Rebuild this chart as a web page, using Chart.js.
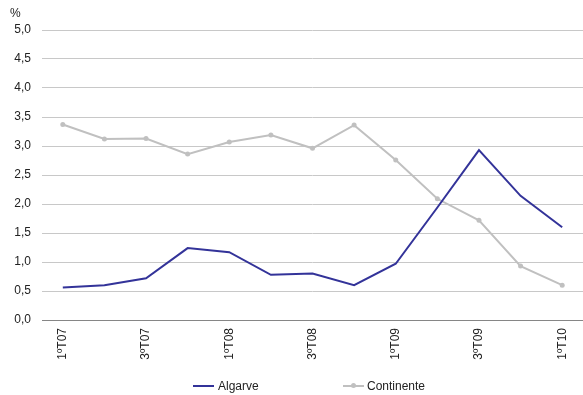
<!DOCTYPE html>
<html>
<head>
<meta charset="utf-8">
<script src="https://cdn.jsdelivr.net/npm/chart.js@4/dist/chart.umd.min.js"></script>
<style>
	html, body { margin: 0; background: #fff; overflow: hidden; }
	#wrap { position: relative; width: 587px; height: 395px; }
	#legend { position: absolute; left: 0; top: 378px; width: 583px; height: 16px; font: 12px "Liberation Sans", Arial, sans-serif; color: #222; }
	.item { position: absolute; top: 0; height: 16px; line-height: 16px; }
	.swatch { position: absolute; top: 7px; width: 21px; height: 2px; }
	.dot { position: absolute; top: -2px; left: 8px; width: 5px; height: 5px; border-radius: 50%; background: #c0c0c0; }
</style>
</head>
<body>
<div id="wrap">
	<canvas id="chart"></canvas>
	<div id="legend">
		<div class="item" style="left:193px"><span class="swatch" style="background:#333399;left:0"></span><span style="margin-left:25px">Algarve</span></div>
		<div class="item" style="left:343px"><span class="swatch" style="background:#c0c0c0;left:0"><span class="dot"></span></span><span style="margin-left:24px">Continente</span></div>
	</div>
</div>
<script>
var quarters = ["1ºT07", "2ºT07", "3ºT07", "4ºT07", "1ºT08", "2ºT08", "3ºT08", "4ºT08", "1ºT09", "2ºT09", "3ºT09", "4ºT09", "1ºT10"];
var algarve = [0.56, 0.60, 0.72, 1.24, 1.17, 0.78, 0.80, 0.60, 0.97, 1.94, 2.93, 2.14, 1.60];
var continente = [3.37, 3.12, 3.13, 2.86, 3.07, 3.19, 2.96, 3.36, 2.76, 2.09, 1.72, 0.93, 0.60];

var font = { family: '"Liberation Sans", Arial, sans-serif', size: 12 };

var percentLabel = {
	id: "percentLabel",
	afterDraw: function(chart) {
		var ctx = chart.ctx;
		ctx.save();
		ctx.font = "12px " + font.family;
		ctx.fillStyle = "#222";
		ctx.textBaseline = "middle";
		ctx.fillText("%", 10, 14);
		ctx.restore();
	}
};

new Chart(document.getElementById("chart"), {
	type: "line",
	data: {
		labels: quarters,
		datasets: [
			{ label: "Algarve", data: algarve, borderColor: "#333399", backgroundColor: "#333399", borderWidth: 2, pointRadius: 0, tension: 0 },
			{ label: "Continente", data: continente, borderColor: "#c0c0c0", backgroundColor: "#c0c0c0", borderWidth: 2, pointRadius: 2.5, pointBorderWidth: 0, pointBackgroundColor: "#c0c0c0", tension: 0 }
		]
	},
	options: {
		responsive: true,
		maintainAspectRatio: false,
		animation: false,
		layout: { padding: { top: 30, right: 1, bottom: 0, left: 0 } },
		plugins: { legend: { display: false }, tooltip: { enabled: false } },
		scales: {
			x: {
				offset: true,
				grid: { display: false, drawTicks: false },
				border: { display: true, color: "#868686", width: 1 },
				afterFit: function(s) { s.height = 75; },
				ticks: {
					autoSkip: false, maxRotation: 90, minRotation: 90, padding: 8, color: "#222", font: font,
					callback: function(v, i) { return i % 2 === 0 ? quarters[i] : ""; }
				}
			},
			y: {
				min: 0, max: 5,
				grid: { color: "#c8c8c8", drawTicks: false },
				border: { display: false },
				afterFit: function(s) { s.width = 42; },
				ticks: {
					stepSize: 0.5, padding: 11, color: "#222", font: font,
					callback: function(v) { return v.toFixed(1).replace(".", ","); }
				}
			}
		}
	},
	plugins: [percentLabel]
});
</script>
</body>
</html>
